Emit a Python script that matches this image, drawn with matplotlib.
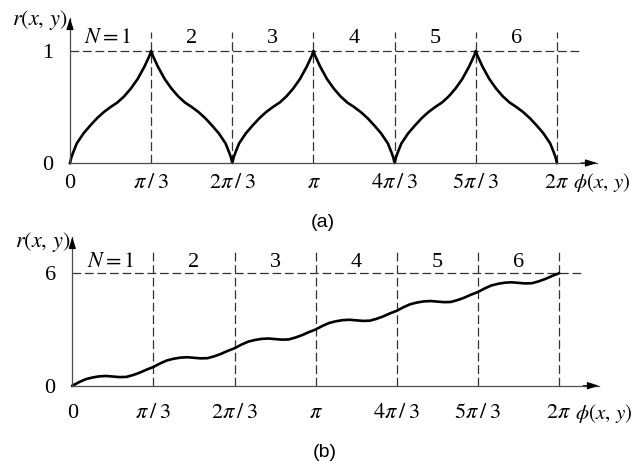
import numpy as np
import matplotlib
matplotlib.use("Agg")
import matplotlib.pyplot as plt

plt.rcParams['font.family'] = ['Liberation Serif', 'DejaVu Serif']
plt.rcParams['mathtext.fontset'] = 'stix'

# sample positions inside one pi/3 sector (degrees)
seg_a = [0, 1, 2.5, 5, 10, 15, 20, 25, 30, 35, 40, 45, 50, 55, 57.5, 59]
seg_b = [0, 5, 10, 15, 20, 25, 30, 35, 40, 45, 50, 55]

# (a) r(x, y), one list per sector N
r_a_n1 = [0, 0.05, 0.10, 0.175, 0.265, 0.335, 0.40, 0.455, 0.50, 0.54, 0.595, 0.665, 0.75, 0.86, 0.925, 0.965]
r_a_n2 = [1.0, 0.965, 0.925, 0.86, 0.75, 0.665, 0.595, 0.54, 0.50, 0.455, 0.40, 0.335, 0.265, 0.175, 0.10, 0.05]
r_a_n3 = [0, 0.05, 0.10, 0.175, 0.265, 0.335, 0.40, 0.455, 0.50, 0.54, 0.595, 0.665, 0.75, 0.86, 0.925, 0.965]
r_a_n4 = [1.0, 0.965, 0.925, 0.86, 0.75, 0.665, 0.595, 0.54, 0.50, 0.455, 0.40, 0.335, 0.265, 0.175, 0.10, 0.05]
r_a_n5 = [0, 0.05, 0.10, 0.175, 0.265, 0.335, 0.40, 0.455, 0.50, 0.54, 0.595, 0.665, 0.75, 0.86, 0.925, 0.965]
r_a_n6 = [1.0, 0.965, 0.925, 0.86, 0.75, 0.665, 0.595, 0.54, 0.50, 0.455, 0.40, 0.335, 0.265, 0.175, 0.10, 0.05]
r_a_end = 0.0

# (b)
r_b_n1 = [0, 0.19, 0.35, 0.44, 0.50, 0.52, 0.49, 0.46, 0.47, 0.57, 0.70, 0.86]
r_b_n2 = [1.0, 1.19, 1.35, 1.44, 1.50, 1.52, 1.49, 1.46, 1.47, 1.57, 1.70, 1.86]
r_b_n3 = [2.0, 2.19, 2.35, 2.44, 2.50, 2.52, 2.49, 2.46, 2.47, 2.57, 2.70, 2.86]
r_b_n4 = [3.0, 3.19, 3.35, 3.44, 3.50, 3.52, 3.49, 3.46, 3.47, 3.57, 3.70, 3.86]
r_b_n5 = [4.0, 4.19, 4.35, 4.44, 4.50, 4.52, 4.49, 4.46, 4.47, 4.57, 4.70, 4.86]
r_b_n6 = [5.0, 5.19, 5.35, 5.44, 5.50, 5.52, 5.49, 5.46, 5.47, 5.57, 5.70, 5.86]
r_b_end = 6.0

sector_labels = [r'$N=1$', '2', '3', '4', '5', '6']
tick_labels = ['0', r'$\pi\:/\:3$', r'$2\pi\:/\:3$', r'$\pi$', r'$4\pi\:/\:3$', r'$5\pi\:/\:3$', r'$2\pi$']


def build(seg, lists, end):
    phi, r = [], []
    for k, vals in enumerate(lists):
        phi += [np.deg2rad(60 * k + o) for o in seg]
        r += vals
    phi.append(2 * np.pi)
    r.append(end)
    return np.array(phi), np.array(r)


phi_a, r_a = build(seg_a, [r_a_n1, r_a_n2, r_a_n3, r_a_n4, r_a_n5, r_a_n6], r_a_end)
phi_b, r_b = build(seg_b, [r_b_n1, r_b_n2, r_b_n3, r_b_n4, r_b_n5, r_b_n6], r_b_end)
ticks = np.arange(7) * np.pi / 3

fig = plt.figure(figsize=(6.37, 4.61), dpi=100)
ax_a = fig.add_axes([0.1099, 0.6464, 0.8273, 0.3146])
ax_b = fig.add_axes([0.1135, 0.1633, 0.8268, 0.3227])


def panel(ax, phi, r, rmax, ytop, vtop, hend, nlab_y, xpad, phi_lab, rlab_y, letter, letter_y):
    ax.set_xlim(0, 6.8)
    ax.set_ylim(0, ytop)
    for s in ['top', 'right']:
        ax.spines[s].set_visible(False)
    for s in ['left', 'bottom']:
        ax.spines[s].set_color('0.3')
        ax.spines[s].set_linewidth(0.9)
    arrow = dict(arrowstyle='-|>,head_length=0.7,head_width=0.22', color='k', lw=0.8,
                 shrinkA=0, shrinkB=0)
    ax.annotate('', xy=(1, 0), xytext=(0.97, 0), xycoords='axes fraction', arrowprops=arrow)
    ax.annotate('', xy=(0, 1), xytext=(0, 0.93), xycoords='axes fraction', arrowprops=arrow)

    # dashed guides
    for t in ticks[1:]:
        ax.plot([t, t], [0, vtop], ls=(0, (7, 3)), color='0.2', lw=0.9)
    ax.plot([0, hend], [rmax, rmax], ls=(0, (7, 3)), color='0.2', lw=0.9)

    ax.plot(phi, r, color='k', lw=1.9, clip_on=False, solid_joinstyle='round')

    ax.set_xticks(ticks, tick_labels, fontsize=16)
    ax.set_yticks([0, rmax], ['0', str(int(rmax))], fontsize=16)
    ax.tick_params(axis='x', length=0, pad=xpad)
    ax.tick_params(axis='y', length=0, pad=12)

    for k, lab in enumerate(sector_labels):
        x = (k + 0.5) * np.pi / 3
        if k == 0:
            x -= 0.03
        ax.text(x, nlab_y, lab, fontsize=16, ha='center', va='center')

    ax.text(-0.004, rlab_y, r'$r(x,\,y)$', transform=ax.transAxes,
            fontsize=16, ha='right', va='center')
    ax.text(6.49, phi_lab, r'$\phi(x,\,y)$', fontsize=15, ha='left', va='center')
    ax.text(np.pi + 0.12, letter_y, letter, fontsize=14, family='Liberation Sans',
            ha='center', va='center')


panel(ax_a, phi_a, r_a, 1, 1.295, 1.17, 6.58, 1.116, 8, -0.17, 0.985, '(a)', -0.535)
panel(ax_b, phi_b, r_b, 6, 7.94, 7.14, 6.576, 6.60, 13, -1.46, 0.966, '(b)', -3.55)

fig.savefig('out.png', dpi=100)
